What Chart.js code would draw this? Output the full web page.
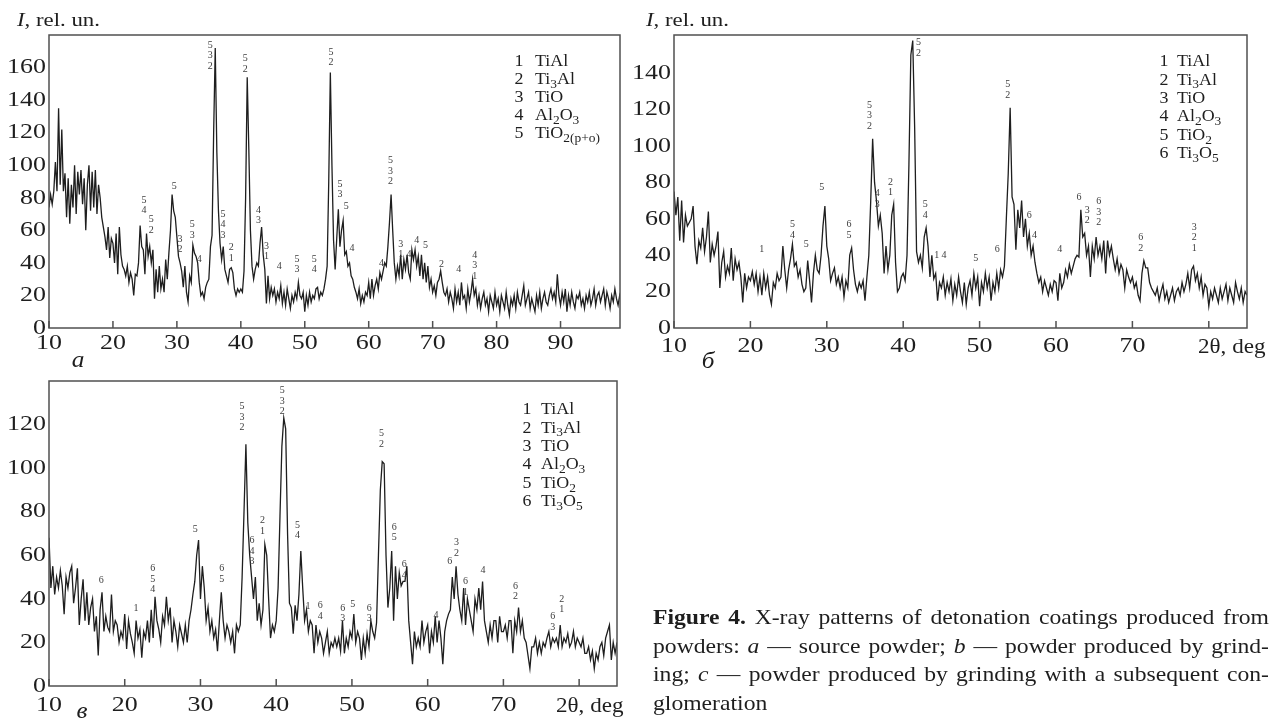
<!DOCTYPE html>
<html>
<head>
<meta charset="utf-8">
<script src="https://cdn.jsdelivr.net/npm/chart.js@4.4.0/dist/chart.umd.min.js"></script>
<style>
  html, body { margin: 0; padding: 0; background: #fff; }
  #page { position: relative; width: 1275px; height: 724px; overflow: hidden; }
  #page canvas { position: absolute; left: 0; top: 0; }
  #caption {
    position: absolute; left: 653px; top: 603px; width: 560px;
    transform: scaleX(1.1); transform-origin: 0 0;
    font: 21.5px/28.7px "Liberation Serif", serif; color: #1e1e1e;
  }
  #caption .j { text-align: justify; text-align-last: justify; }
</style>
</head>
<body>
<div id="page">
  <canvas id="chartA" width="1275" height="724"></canvas>
  <canvas id="chartB" width="1275" height="724"></canvas>
  <canvas id="chartC" width="1275" height="724"></canvas>
  <div id="caption">
    <div class="j"><b>Figure 4.</b> X-ray patterns of detonation coatings produced from</div>
    <div class="j">powders: <i>a</i> — source powder; <i>b</i> — powder produced by grind-</div>
    <div class="j">ing; <i>c</i> — powder produced by grinding with a subsequent con-</div>
    <div>glomeration</div>
  </div>
</div>
<script>
// scan grid: 2theta from 10 deg, every 0.25 deg
const startDeg = 10;
const stepDeg = 0.25;

// a - source powder
const intensityA = [
  74, 82, 76, 84,  102, 84, 135, 88,  122, 84, 95, 68,  92, 64, 88, 74,  100, 70, 96, 82,
  97, 76, 92, 60,  88, 100, 72, 96,  74, 97, 70, 88,  80, 68, 62, 56,  48, 62, 43, 55,
  52, 40, 58, 33,  62, 45, 38, 36,  32, 38, 28, 34,  30, 20, 33, 32,  40, 63, 50, 48,
  33, 58, 44, 50,  40, 48, 18, 36,  22, 38, 24, 30,  22, 42, 30, 46,  60, 82, 72, 68,
  56, 44, 40, 35,  25, 38, 22, 16,  32, 28, 51, 46,  44, 40, 28, 20,  22, 18, 25, 28,
  30, 50, 57, 120,  172, 108, 72, 52,  42, 50, 36, 32,  28, 36, 37, 34,  24, 20, 24, 22,
  24, 22, 35, 80,  154, 110, 60, 38,  30, 36, 40, 38,  52, 62, 45, 36,  15, 32, 18, 25,
  20, 24, 16, 22,  18, 26, 15, 22,  14, 24, 18, 12,  20, 16, 22, 18,  28, 20, 18, 22,
  10, 20, 14, 22,  16, 20, 18, 24,  25, 18, 22, 20,  24, 30, 38, 90,  157, 100, 54, 36,
  55, 73, 50, 60,  66, 45, 47, 38,  40, 32, 30, 25,  22, 18, 24, 15,  20, 16, 22, 20,
  28, 18, 30, 20,  26, 30, 24, 34,  30, 35, 40, 38,  50, 65, 82, 60,  40, 30, 38, 32,
  45, 30, 42, 36,  45, 34, 30, 48,  42, 48, 38, 44,  32, 45, 30, 40,  28, 38, 25, 30,
  22, 26, 20, 28,  30, 35, 28, 22,  20, 24, 16, 22,  18, 12, 24, 16,  22, 14, 28, 18,
  20, 12, 24, 16,  22, 30, 20, 24,  14, 20, 12, 18,  22, 14, 18, 10,  20, 16, 12, 22,
  14, 18, 10, 20,  16, 12, 22, 14,  8, 18, 14, 20,  12, 22, 16, 14,  20, 26, 14, 18,
  22, 12, 18, 14,  10, 20, 14, 22,  12, 18, 22, 16,  14, 20, 24, 18,  22, 16, 33, 20,
  14, 22, 16, 24,  10, 20, 14, 22,  16, 12, 20, 18,  22, 14, 18, 12,  20, 16, 22, 14,
  18, 24, 14, 20,  22, 16, 20, 24,  14, 22, 18, 12,  20, 16, 24, 18,  14, 20, 16
];

// b - powder produced by grinding
const intensityB = [
  75, 62, 72, 48,  70, 47, 62, 56,  58, 60, 67, 45,  35, 48, 44, 55,  42, 50, 64, 36,
  46, 40, 45, 53,  22, 36, 42, 28,  34, 30, 44, 26,  38, 32, 36, 28,  14, 30, 22, 28,
  26, 31, 24, 30,  20, 28, 18, 30,  22, 28, 18, 13,  25, 22, 30, 26,  28, 45, 32, 22,
  32, 38, 46, 34,  36, 28, 32, 24,  20, 22, 37, 26,  14, 30, 40, 32,  30, 40, 56, 67,
  45, 38, 26, 30,  33, 24, 28, 22,  28, 17, 26, 22,  40, 44, 32, 24,  20, 25, 22, 26,
  15, 28, 40, 70,  104, 80, 70, 56,  62, 52, 30, 45,  32, 40, 62, 68,  36, 20, 22, 28,
  30, 26, 40, 90,  150, 158, 110, 42,  36, 40, 33, 50,  55, 45, 28, 40,  27, 30, 15, 25,
  22, 28, 18, 25,  20, 27, 15, 24,  18, 28, 20, 14,  25, 13, 22, 26,  18, 30, 22, 28,
  12, 25, 20, 30,  22, 28, 15, 25,  20, 30, 22, 32,  28, 34, 60, 85,  121, 72, 68, 43,
  65, 55, 70, 50,  60, 45, 52, 40,  45, 36, 30, 25,  28, 20, 26, 22,  18, 24, 20, 26,
  25, 15, 30, 22,  25, 32, 28, 35,  30, 34, 38, 40,  39, 65, 50, 52,  40, 45, 28, 45,
  38, 50, 40, 45,  38, 48, 30, 48,  40, 45, 38, 32,  38, 30, 35, 32,  22, 32, 28, 25,
  28, 22, 25, 18,  15, 30, 37, 33,  33, 25, 22, 20,  18, 22, 15, 20,  24, 16, 20, 14,
  18, 22, 15, 20,  22, 18, 25, 20,  24, 30, 22, 32,  34, 26, 30, 22,  28, 18, 24, 22,
  12, 20, 16, 22,  18, 14, 22, 16,  20, 24, 15, 22,  18, 14, 25, 20,  16, 22, 14, 20,
  18
];

// c - grinding with subsequent conglomeration
const intensityC = [
  68, 45, 55, 42,  50, 45, 53, 46,  33, 50, 45, 52,  55, 38, 45, 54,  28, 40, 49, 30,
  43, 28, 36, 40,  25, 32, 14, 35,  43, 25, 32, 27,  25, 42, 25, 30,  28, 20, 25, 22,
  33, 17, 30, 24,  20, 15, 30, 22,  26, 13, 25, 22,  30, 20, 35, 22,  41, 30, 26, 20,
  32, 28, 41, 30,  36, 20, 30, 25,  18, 28, 24, 20,  28, 20, 30, 35,  42, 48, 60, 67,
  40, 55, 45, 30,  36, 25, 30, 22,  26, 16, 30, 43,  30, 22, 28, 25,  20, 25, 15, 28,
  25, 28, 50, 80,  111, 75, 60, 50,  40, 50, 30, 38,  28, 35, 65, 60,  40, 22, 28, 25,
  30, 45, 78, 110,  123, 118, 70, 38,  36, 24, 37, 30,  42, 62, 45, 30,  35, 25, 30, 28,
  15, 28, 20, 25,  22, 15, 20, 25,  15, 20, 18, 22,  18, 22, 16, 30,  15, 22, 18, 25,
  22, 33, 20, 25,  22, 12, 22, 15,  24, 18, 30, 25,  22, 29, 60, 90,  103, 102, 60, 36,
  45, 62, 30, 55,  40, 52, 46, 48,  48, 55, 30, 20,  10, 25, 18, 22,  18, 30, 20, 25,
  28, 15, 25, 20,  32, 20, 30, 22,  10, 25, 30, 33,  35, 50, 40, 55,  42, 35, 30, 45,
  28, 40, 35, 30,  25, 40, 35, 45,  35, 48, 30, 25,  20, 28, 22, 30,  30, 20, 32, 25,
  25, 28, 22, 30,  30, 15, 30, 25,  36, 25, 30, 22,  20, 14, 8, 18,  18, 22, 15, 20,
  15, 20, 18, 22,  25, 18, 22, 20,  22, 18, 28, 18,  22, 20, 24, 18,  20, 25, 18, 22,
  20, 18, 22, 15,  15, 18, 12, 16,  8, 15, 12, 18,  20, 14, 22, 25,  28, 12, 20, 15,
  20
];

// tick values and labels
const xTicksA = [10, 20, 30, 40, 50, 60, 70, 80, 90];
const xLabelsA = ['10', '20', '30', '40', '50', '60', '70', '80', '90'];
const xTicksBC = [10, 20, 30, 40, 50, 60, 70, 80];
const xLabelsBC = ['10', '20', '30', '40', '50', '60', '70', ''];
const yTicksA = [0, 20, 40, 60, 80, 100, 120, 140, 160];
const yTicksB = [0, 20, 40, 60, 80, 100, 120, 140];
const yTicksC = [0, 20, 40, 60, 80, 100, 120];

// phase marks over reflections: [2theta, intensity under the stack, phase numbers top to bottom]
const peaksA = [
  [24.85, 72, '54'], [26.0, 60, '52'], [29.6, 87, '5'], [30.5, 48, '32'], [32.4, 57, '53'],
  [33.5, 42, '4'], [35.2, 161, '532'], [37.2, 57, '543'], [38.5, 43, '21'], [40.7, 159, '52'],
  [42.75, 66, '43'], [44.0, 44, '31'], [46.0, 38, '4'], [48.8, 36, '53'], [51.5, 36, '54'],
  [54.1, 163, '52'], [55.5, 82, '53'], [56.5, 75, '5'], [57.4, 49, '4'], [62.0, 40, '4'],
  [63.4, 90, '532'], [65.0, 45, '31'], [66.3, 45, '4'], [67.5, 54, '4'], [68.9, 51, '5'],
  [71.4, 39, '2'], [74.1, 36, '4'], [76.6, 32, '431']
];
const peaksB = [
  [21.5, 43, '1'], [25.5, 51, '54'], [27.3, 46, '5'], [29.35, 77, '5'], [32.9, 51, '65'],
  [35.6, 111, '532'], [36.6, 68, '43'], [38.35, 74.5, '21'], [42.0, 151, '52'], [42.9, 62, '54'],
  [44.4, 40, '1'], [45.35, 40, '4'], [49.5, 38, '5'], [52.3, 43, '6'], [53.7, 128, '52'],
  [56.5, 62, '6'], [57.2, 51, '4'], [60.5, 43, '4'], [63.0, 72, '6'], [64.1, 59, '32'],
  [65.6, 58, '632'], [71.1, 44, '62'], [78.1, 44, '321']
];
const peaksC = [
  [16.9, 48.6, '6'], [21.5, 35.6, '1'], [23.7, 44.3, '654'], [29.3, 72, '5'], [32.8, 49, '65'],
  [35.5, 118.5, '532'], [36.8, 57, '643'], [38.2, 71, '21'], [40.8, 126, '532'], [42.8, 69, '54'],
  [44.2, 36.7, '1'], [45.8, 32, '64'], [48.8, 31, '63'], [50.1, 37.6, '5'], [52.3, 31, '63'],
  [53.9, 111, '52'], [55.6, 68, '65'], [56.9, 51, '64'], [61.1, 32.6, '4'], [62.9, 57, '6'],
  [63.8, 61, '32'], [65.0, 43, '61'], [67.3, 53, '4'], [71.6, 41, '62'], [76.5, 27, '63'],
  [77.7, 35, '21']
];

// phase legend ( _x = subscript )
const phasesA = ['TiAl', 'Ti_3Al', 'TiO', 'Al_2O_3', 'TiO_{2(p+o)}'];
const phasesBC = ['TiAl', 'Ti_3Al', 'TiO', 'Al_2O_3', 'TiO_2', 'Ti_3O_5'];

const W = 1275, H = 724;
const ink = '#1e1e1e';
const markInk = '#3c3c3c';

function series(values) {
  return values.map((v, i) => ({ x: startDeg + i * stepDeg, y: v }));
}

// "*..*" italic, "_x" or "_{..}" subscript
function parseRich(str) {
  const parts = [];
  const re = /_\{([^}]*)\}|_(.)|\*([^*]*)\*/g;
  let last = 0, m;
  while ((m = re.exec(str)) !== null) {
    if (m.index > last) parts.push({ t: str.slice(last, m.index), sub: false, it: false });
    if (m[3] !== undefined) parts.push({ t: m[3], sub: false, it: true });
    else parts.push({ t: m[1] !== undefined ? m[1] : m[2], sub: true, it: false });
    last = re.lastIndex;
  }
  if (last < str.length) parts.push({ t: str.slice(last), sub: false, it: false });
  return parts;
}

function drawRich(ctx, str, x, y, o) {
  const size = o.size, sx = o.stretch || 1;
  const parts = parseRich(str);
  const fontOf = p => (p.it ? 'italic ' : '') + (p.sub ? size * 0.75 : size) + 'px "Liberation Serif"';
  let w = 0;
  parts.forEach(p => { ctx.font = fontOf(p); p.w = ctx.measureText(p.t).width; w += p.w; });
  let cx = 0;
  if (o.align === 'right') cx = -w;
  else if (o.align === 'center') cx = -w / 2;
  ctx.save();
  ctx.translate(x, y);
  ctx.scale(sx, 1);
  ctx.fillStyle = o.color || ink;
  ctx.textAlign = 'left';
  ctx.textBaseline = o.baseline || 'middle';
  parts.forEach(p => {
    ctx.font = fontOf(p);
    ctx.fillText(p.t, cx, p.sub ? size * 0.3 : 0);
    cx += p.w;
  });
  ctx.restore();
}

const xrdFrame = {
  id: 'xrdFrame',
  afterDatasetsDraw(chart, args, o) {
    const ctx = chart.ctx, a = chart.chartArea;
    const xs = chart.scales.x, ys = chart.scales.y;

    ctx.save();
    ctx.strokeStyle = '#505050';
    ctx.lineWidth = 1.5;
    ctx.strokeRect(a.left, a.top, a.right - a.left, a.bottom - a.top);
    ctx.beginPath();
    o.xTicks.forEach(v => {
      const px = xs.getPixelForValue(v);
      ctx.moveTo(px, a.bottom);
      ctx.lineTo(px, a.bottom - 7);
    });
    ctx.stroke();
    ctx.restore();

    o.xTicks.forEach((v, i) => {
      if (o.xLabels[i]) drawRich(ctx, o.xLabels[i], xs.getPixelForValue(v), a.bottom + o.xLabelGap, { size: 22, stretch: 1.18, align: 'center' });
    });
    o.yTicks.forEach(v => {
      drawRich(ctx, String(v), a.left - 3, ys.getPixelForValue(v), { size: 22, stretch: 1.18, align: 'right' });
    });

    o.peaks.forEach(([deg, val, marks]) => {
      const px = xs.getPixelForValue(deg), py = ys.getPixelForValue(val);
      for (let k = 0; k < marks.length; k++) {
        drawRich(ctx, marks[k], px, py - (marks.length - 1 - k) * 10.5, { size: 10, align: 'center', color: markInk });
      }
    });

    o.legend.forEach((name, i) => {
      const yy = o.legendAt.y + i * o.legendAt.dy;
      drawRich(ctx, String(i + 1), o.legendAt.numX, yy, { size: 16, stretch: 1.12, align: 'center' });
      drawRich(ctx, name, o.legendAt.nameX, yy, { size: 16, stretch: 1.12 });
    });

    if (o.header) drawRich(ctx, '*I*, rel. un.', o.header.x, o.header.y, { size: 19, stretch: 1.2, baseline: 'alphabetic' });
    drawRich(ctx, '*' + o.letter.t + '*', o.letter.x, o.letter.y, { size: 23, stretch: 1.1, align: 'center' });
    if (o.axisTitle) drawRich(ctx, '2θ, deg', o.axisTitle.x, o.axisTitle.y, { size: 21, stretch: 1.1 });
  }
};

function makePanel(id, values, p) {
  new Chart(document.getElementById(id), {
    type: 'line',
    data: {
      datasets: [{
        data: series(values),
        borderColor: ink,
        borderWidth: 1.3,
        pointRadius: 0,
        tension: 0,
        fill: false
      }]
    },
    options: {
      responsive: false,
      animation: false,
      events: [],
      layout: { padding: { left: p.area.left, top: p.area.top, right: W - p.area.right, bottom: H - p.area.bottom } },
      scales: {
        x: { type: 'linear', min: 10, max: p.xMax, display: false },
        y: { type: 'linear', min: 0, max: p.yMax, display: false }
      },
      plugins: {
        legend: { display: false },
        tooltip: { enabled: false },
        xrdFrame: p.frame
      }
    },
    plugins: [xrdFrame]
  });
}

makePanel('chartA', intensityA, {
  area: { left: 49, top: 35, right: 620, bottom: 328 }, xMax: 99.3, yMax: 180,
  frame: {
    xTicks: xTicksA, xLabels: xLabelsA, yTicks: yTicksA, xLabelGap: 15,
    peaks: peaksA, legend: phasesA, legendAt: { numX: 519, nameX: 535, y: 62, dy: 17.9 },
    header: { x: 17, y: 26 }, letter: { t: 'а', x: 78, y: 361 }, axisTitle: null
  }
});

makePanel('chartB', intensityB, {
  area: { left: 674, top: 35, right: 1247, bottom: 328 }, xMax: 85, yMax: 161,
  frame: {
    xTicks: xTicksBC, xLabels: xLabelsBC, yTicks: yTicksB, xLabelGap: 18,
    peaks: peaksB, legend: phasesBC, legendAt: { numX: 1164, nameX: 1177, y: 62, dy: 18.4 },
    header: { x: 646, y: 26 }, letter: { t: 'б', x: 708, y: 362 }, axisTitle: { x: 1198, y: 347 }
  }
});

makePanel('chartC', intensityC, {
  area: { left: 49, top: 381, right: 617, bottom: 686 }, xMax: 85, yMax: 140,
  frame: {
    xTicks: xTicksBC, xLabels: xLabelsBC, yTicks: yTicksC, xLabelGap: 19,
    peaks: peaksC, legend: phasesBC, legendAt: { numX: 527, nameX: 541, y: 410, dy: 18.4 },
    header: null, letter: { t: 'в', x: 82, y: 712 }, axisTitle: { x: 556, y: 706 }
  }
});
</script>
</body>
</html>
